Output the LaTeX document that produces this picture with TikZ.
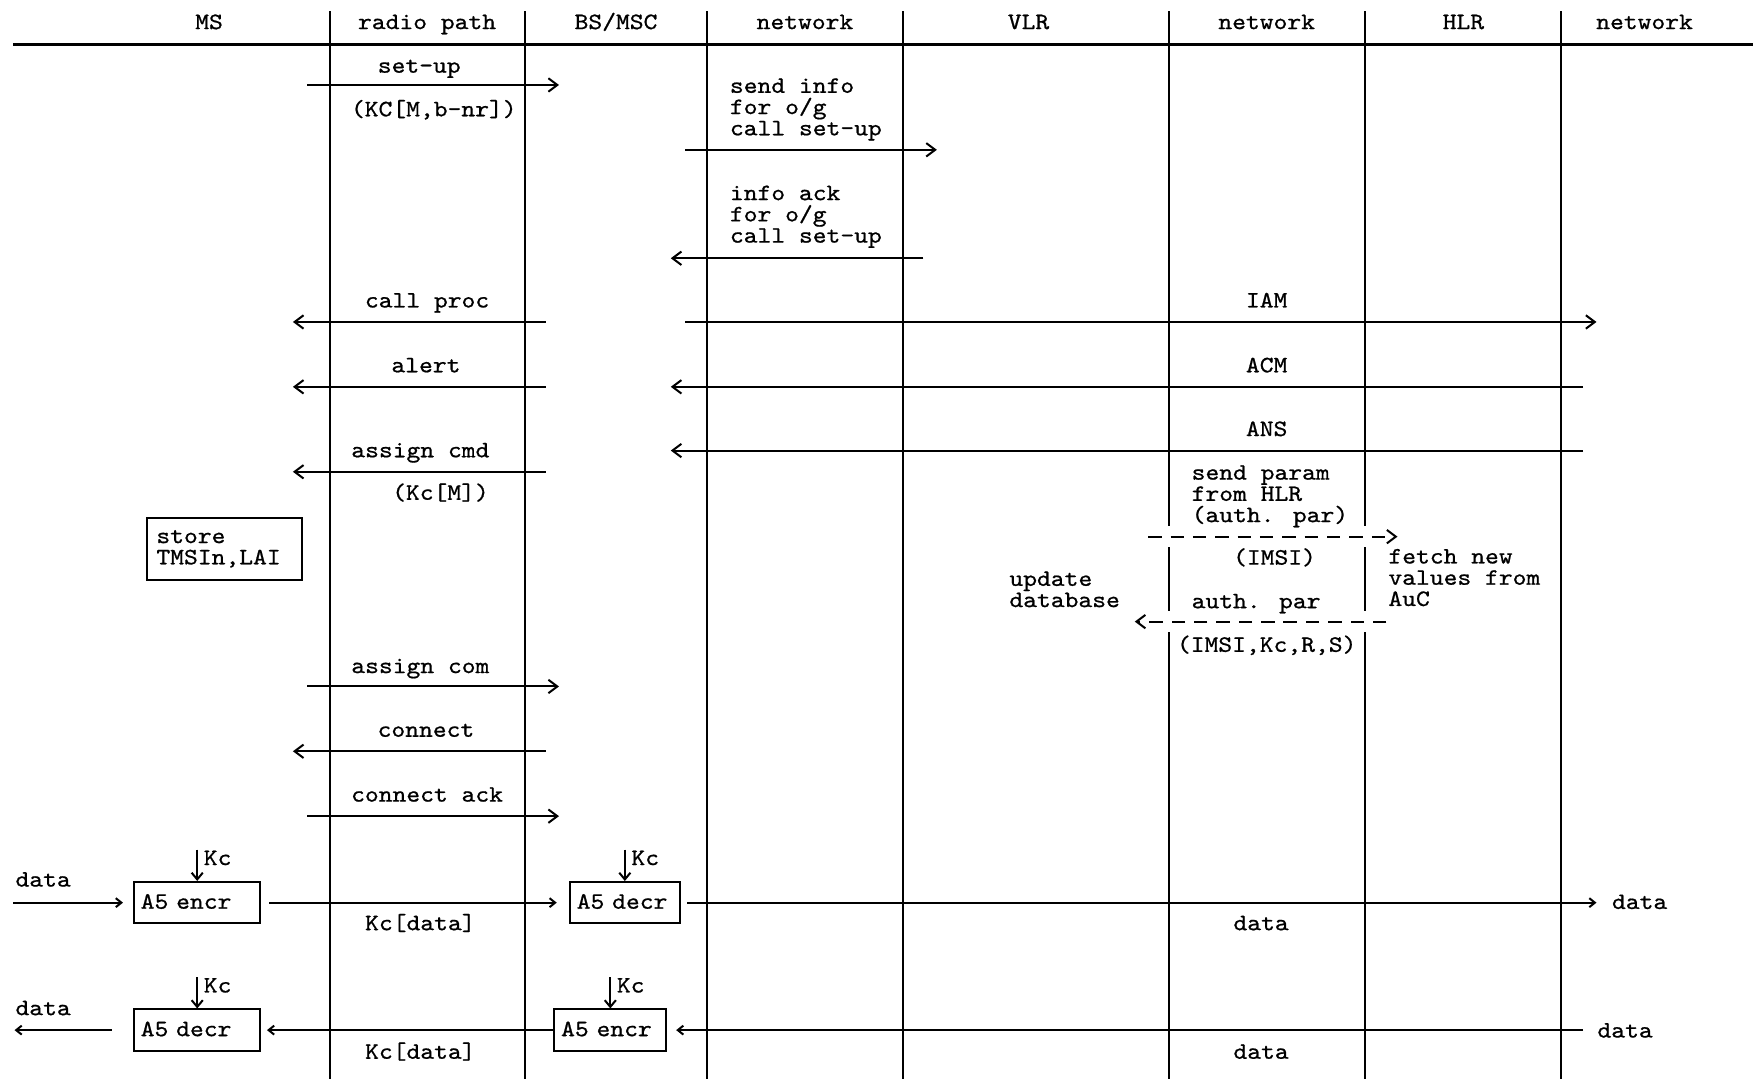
\documentclass[tikz,border=0pt]{standalone}
\usepackage{fontspec}
\newfontfamily\seqfont{lmmono10-regular.otf}[FakeStretch=1.12, FakeBold=0.8]
\usetikzlibrary{arrows.meta}

\tikzset{
  lbl/.style={inner sep=0, anchor=base},
  lblw/.style={inner sep=0, anchor=base west, align=left},
  life/.style={line width=0.9pt},
  head/.style={line width=1.4pt},
  msg/.style={-{Straight Barb[length=4pt,width=6pt]}},
  dmsg/.style={msg, dash pattern=on 6pt off 4pt,
    preaction={draw=white, line width=9.5pt, solid, arrows=-}},
  dat/.style={-{Straight Barb[length=2.5pt,width=4pt]}},
  key/.style={-{Straight Barb[length=3pt,width=5pt]}},
  box/.style={draw, anchor=north west, inner xsep=3pt, inner ysep=0pt,
    minimum height=18.5pt, text height=6.3pt, text depth=0.9pt, align=left},
  kc/.style={inner sep=0, anchor=north west, xshift=2.5pt}
}

\begin{document}
\begin{tikzpicture}[x=0.5pt, y=-0.5pt, line width=0.9pt,
    font=\seqfont\fontsize{10.5}{9.5}\selectfont]
  \useasboundingbox (0,0) rectangle (1568,965);

  % header
  \node[lbl] (ms) at (187,26) {MS};
  \node[lbl] (radio) at (382,26) {radio path};
  \node[lbl] (bsc) at (551,26) {BS/MSC};
  \node[lbl] (netA) at (720,26) {network};
  \node[lbl] (vlr) at (920,26) {VLR};
  \node[lbl] (netB) at (1133,26) {network};
  \node[lbl] (hlr) at (1309,26) {HLR};
  \node[lbl] (netC) at (1471,26) {network};
  \coordinate (hl) at (12,40);
  \coordinate (hr) at (1568,40);
  \draw[head] (hl) -- (hr);
  \foreach \x [count=\i] in {295,470,632,808,1046,1221,1396}{
    \coordinate (top\i) at (\x,10);
    \coordinate (bot\i) at (\x,965);
    \draw[life] (top\i) -- (bot\i);
  }

  % call set-up
  \coordinate (setupS) at (275,76);  \coordinate (setupE) at (500,76);
  \draw[msg] (setupS) -- (setupE);
  \node[lbl] (setup) at (375,65) {set-up};
  \node[lbl] (setupP) at (388,104) {(KC[M,b-nr])};

  \coordinate (infoS) at (613,134);  \coordinate (infoE) at (838,134);
  \draw[msg] (infoS) -- (infoE);
  \node[lblw] (info) at (652,121) {send info\\for o/g\\call set-up};

  \coordinate (ackS) at (826,231);  \coordinate (ackE) at (600,231);
  \draw[msg] (ackS) -- (ackE);
  \node[lblw] (ack) at (652,217) {info ack\\for o/g\\call set-up};

  \coordinate (procS) at (488,288);  \coordinate (procE) at (262,288);
  \draw[msg] (procS) -- (procE);
  \node[lbl] (proc) at (382,275) {call proc};
  \coordinate (iamS) at (613,288);  \coordinate (iamE) at (1428,288);
  \draw[msg] (iamS) -- (iamE);
  \node[lbl] (iam) at (1133,275) {IAM};

  \coordinate (alertS) at (488,346);  \coordinate (alertE) at (262,346);
  \draw[msg] (alertS) -- (alertE);
  \node[lbl] (alert) at (381,333) {alert};
  \coordinate (acmS) at (1416,346);  \coordinate (acmE) at (600,346);
  \draw[msg] (acmS) -- (acmE);
  \node[lbl] (acm) at (1133,333) {ACM};

  \coordinate (ansS) at (1416,403);  \coordinate (ansE) at (600,403);
  \draw[msg] (ansS) -- (ansE);
  \node[lbl] (ans) at (1133,390) {ANS};

  \coordinate (cmdS) at (488,422);  \coordinate (cmdE) at (262,422);
  \draw[msg] (cmdS) -- (cmdE);
  \node[lbl] (cmd) at (376,409) {assign cmd};
  \node[lbl] (cmdP) at (394,447) {(Kc[M])};

  \node[draw, anchor=north west, inner xsep=4pt, inner ysep=0pt,
    minimum height=28pt, text width=61pt, align=left] (store) at (131,462)
    {store\\TMSIn,LAI};

  % authentication parameters
  \coordinate (authS) at (1027,480);  \coordinate (authE) at (1250,480);
  \draw[dmsg] (authS) -- (authE);
  \coordinate (parS) at (1240,556);  \coordinate (parE) at (1015,556);
  \draw[dmsg] (parS) -- (parE);
  \node[lblw] (param) at (1065,467) {send param\\from HLR\\(auth. par)};
  \node[lbl] (imsi) at (1140,505) {(IMSI)};
  \node[lblw] (fetch) at (1241,542) {fetch new\\values from\\AuC};
  \node[lblw] (update) at (902,543) {update\\database};
  \node[lblw] (authpar) at (1065,544) {auth. par};
  \node[lbl] (imsiP) at (1133,583) {(IMSI,Kc,R,S)};

  \coordinate (comS) at (275,614);  \coordinate (comE) at (500,614);
  \draw[msg] (comS) -- (comE);
  \node[lbl] (com) at (376,602) {assign com};

  \coordinate (conS) at (488,672);  \coordinate (conE) at (262,672);
  \draw[msg] (conS) -- (conE);
  \node[lbl] (con) at (381,659) {connect};

  \coordinate (conackS) at (275,730);  \coordinate (conackE) at (500,730);
  \draw[msg] (conackS) -- (conackE);
  \node[lbl] (conack) at (382,717) {connect ack};

  % ciphered data, uplink
  \node[box, text width=50.5pt] (encA) at (119,788) {A5 encr};
  \node[box, text width=43pt] (decA) at (509,788) {A5 decr};
  \coordinate (kcA) at ([yshift=14pt]encA.north);
  \draw[key] (kcA) -- (encA.north);
  \node[kc] (kcAl) at (kcA) {Kc};
  \coordinate (kcB) at ([yshift=14pt]decA.north);
  \draw[key] (kcB) -- (decA.north);
  \node[kc] (kcBl) at (kcB) {Kc};
  \coordinate (dinA) at (encA.west -| 12,0);
  \draw[dat, shorten >=4.5pt] (dinA) -- (encA.west);
  \draw[dat, shorten <=3.5pt, shorten >=5.5pt] (encA.east) -- (decA.west);
  \coordinate (doutA) at (decA.east -| 1428,0);
  \draw[dat, shorten <=3pt] (decA.east) -- (doutA);
  \node[lblw] (dataA) at (13,793) {data};
  \node[lbl] (kcdataA) at (376,832) {Kc[data]};
  \node[lbl] (plainA) at (1128,832) {data};
  \node[lblw] (dataAr) at (1441,813) {data};

  % ciphered data, downlink
  \node[box, text width=50.5pt] (decB) at (119,902) {A5 decr};
  \node[box, text width=44pt] (encB) at (495,902) {A5 encr};
  \coordinate (kcC) at ([yshift=14pt]decB.north);
  \draw[key] (kcC) -- (decB.north);
  \node[kc] (kcCl) at (kcC) {Kc};
  \coordinate (kcD) at ([yshift=14pt]encB.north);
  \draw[key] (kcD) -- (encB.north);
  \node[kc] (kcDl) at (kcD) {Kc};
  \coordinate (dinB) at (encB.east -| 1416,0);
  \draw[dat, shorten >=4pt] (dinB) -- (encB.east);
  \draw[dat, shorten >=2.5pt] (encB.west) -- (decB.east);
  \coordinate (doutB) at (decB.west -| 13,0);
  \draw[dat, shorten <=9.5pt] (decB.west) -- (doutB);
  \node[lblw] (dataB) at (13,908) {data};
  \node[lbl] (kcdataB) at (376,947) {Kc[data]};
  \node[lbl] (plainB) at (1128,947) {data};
  \node[lblw] (dataBr) at (1428,928) {data};
\end{tikzpicture}
\end{document}
